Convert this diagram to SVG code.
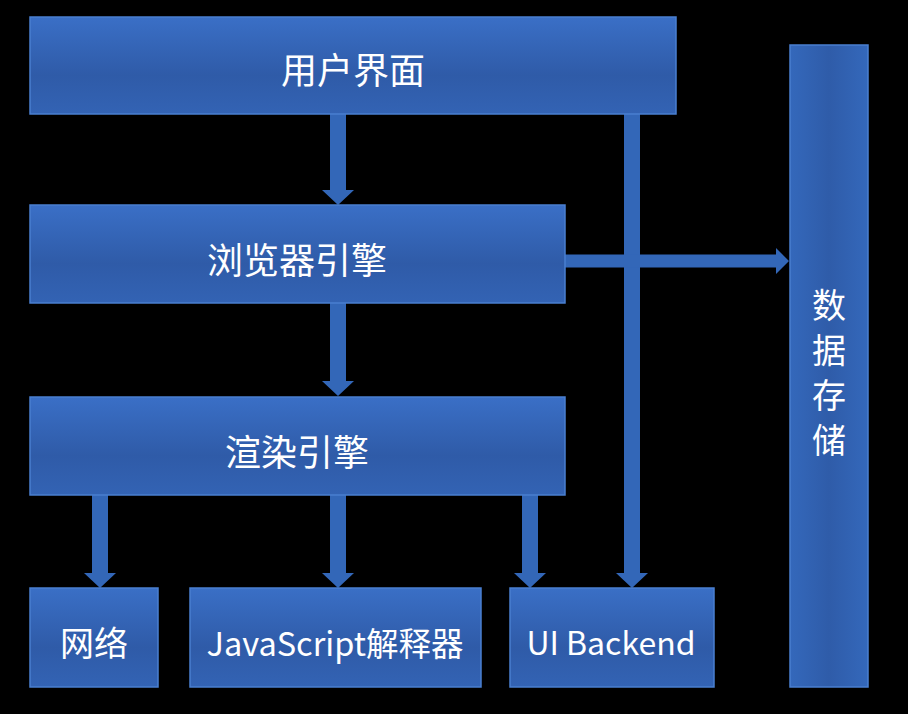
<svg xmlns="http://www.w3.org/2000/svg" width="908" height="714" viewBox="0 0 908 714">
<defs>
<linearGradient id="g" x1="0" y1="0" x2="0" y2="1">
<stop offset="0" stop-color="#3a6fc6"/>
<stop offset="0.6" stop-color="#2f5ba8"/>
<stop offset="1" stop-color="#3363b4"/>
</linearGradient>
<linearGradient id="gv" x1="0" y1="0" x2="1" y2="0">
<stop offset="0" stop-color="#3468bb"/>
<stop offset="0.5" stop-color="#2f5ca9"/>
<stop offset="1" stop-color="#3468bb"/>
</linearGradient>
</defs>
<style>
.box{fill:url(#g);stroke:#4a7fd0;stroke-width:1.5}
.t{fill:#ffffff;font-family:"Noto Sans CJK SC","Noto Sans",sans-serif;text-anchor:middle;dominant-baseline:central}
.a{fill:#3367b8}
</style>
<rect width="908" height="714" fill="#000"/>
<g id="connectors">
<path class="a" d="M330,114 H346 V190 H354 L338,205 L322,190 H330 Z"/>
<path class="a" d="M330,303 H346 V381 H354 L338,396 L322,381 H330 Z"/>
<path class="a" d="M624,114 H640 V573 H648 L632,588 L616,573 H624 Z"/>
<path class="a" d="M565,254.5 H776 V248 L789,261 L776,274 V267.5 H565 Z"/>
<path class="a" d="M92,495 H108 V573 H116 L100,588 L84,573 H92 Z"/>
<path class="a" d="M330,495 H346 V573 H354 L338,588 L322,573 H330 Z"/>
<path class="a" d="M522,495 H538 V573 H546 L530,588 L514,573 H522 Z"/>
</g>
<g id="ui">
<rect class="box" x="30" y="17" width="646" height="97"/>
<text class="t" x="353" y="68" font-size="36">用户界面</text>
</g>
<g id="browser-engine">
<rect class="box" x="30" y="205" width="535" height="98"/>
<text class="t" x="297" y="258" font-size="36">浏览器引擎</text>
</g>
<g id="render-engine">
<rect class="box" x="30" y="397" width="535" height="98"/>
<text class="t" x="297" y="450" font-size="36">渲染引擎</text>
</g>
<g id="data-store">
<rect x="790" y="45" width="78" height="642" fill="url(#gv)" stroke="#4a7fd0" stroke-width="1.5"/>
<text class="t" x="829" y="303" font-size="34">数</text>
<text class="t" x="829" y="348" font-size="34">据</text>
<text class="t" x="829" y="393" font-size="34">存</text>
<text class="t" x="829" y="438" font-size="34">储</text>
</g>
<g id="network">
<rect class="box" x="30" y="588" width="128" height="99"/>
<text class="t" x="94" y="641" font-size="34">网络</text>
</g>
<g id="js">
<rect class="box" x="190" y="588" width="291" height="99"/>
<text class="t" x="335" y="641" font-size="32.5">JavaScript解释器</text>
</g>
<g id="ui-backend">
<rect class="box" x="510" y="588" width="204" height="99"/>
<text class="t" x="611" y="641" font-size="32">UI Backend</text>
</g>
</svg>
